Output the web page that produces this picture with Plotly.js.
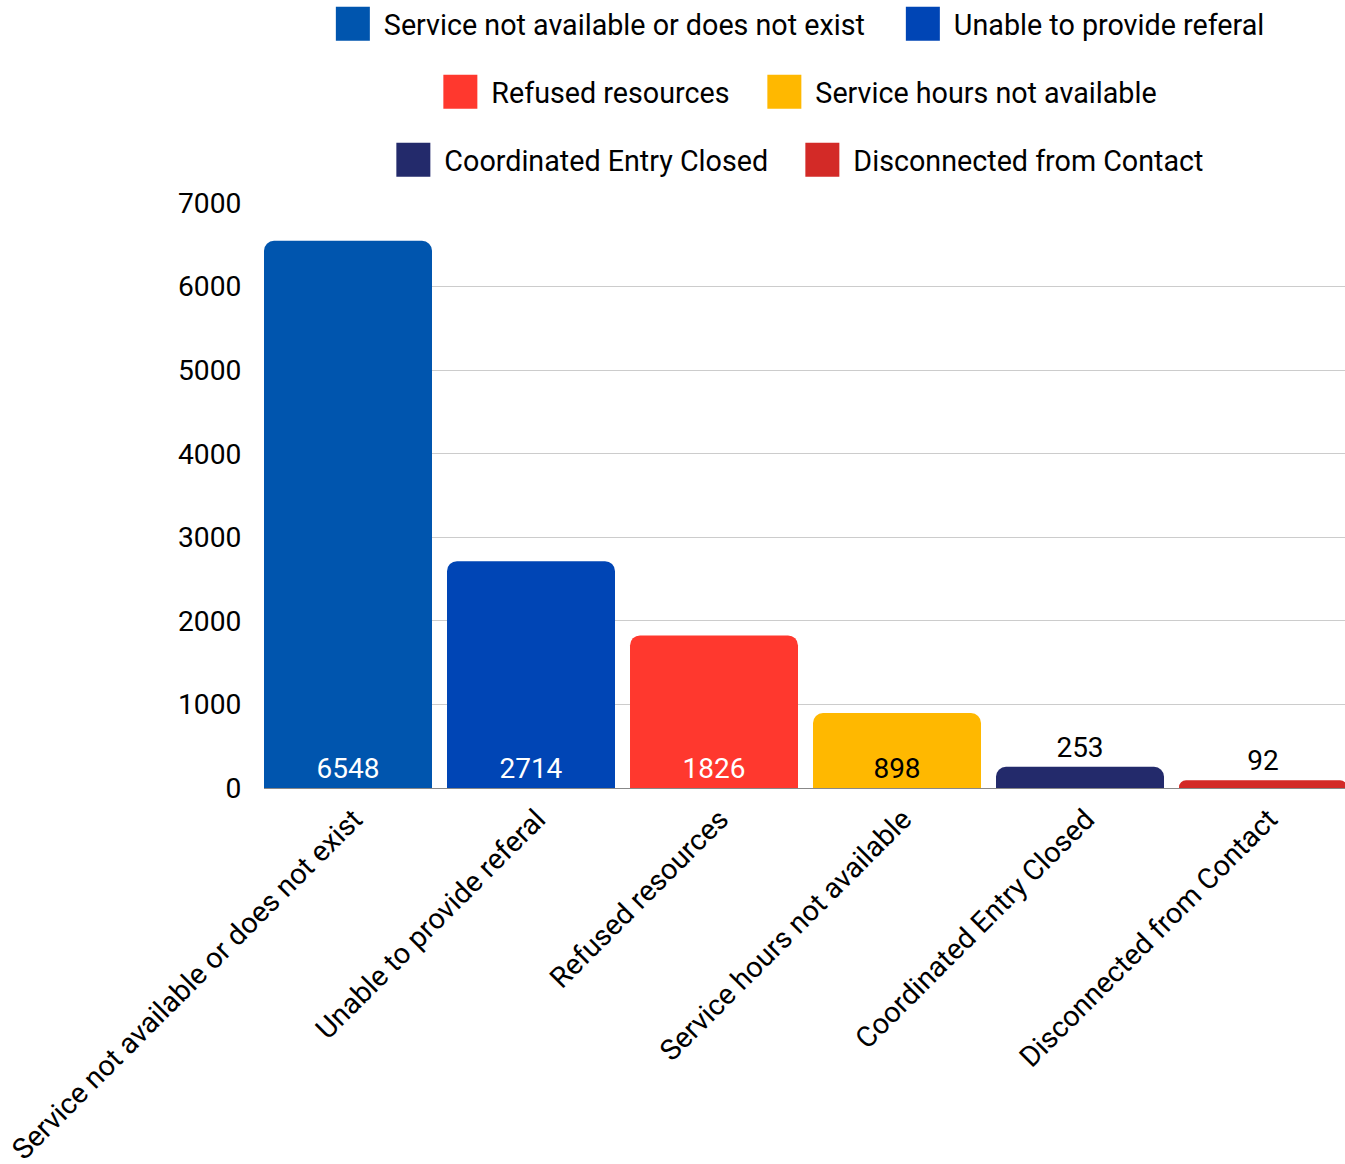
<!DOCTYPE html>
<html>
<head>
<meta charset="utf-8">
<script src="https://cdn.plot.ly/plotly-3.0.1.min.js"></script>
<style>
  html, body { margin: 0; padding: 0; background: #fff; }
  #chart { width: 1345px; height: 1164px; }
</style>
</head>
<body>
<div id="chart"></div>
<script>
const categories = [
  "Service not available or does not exist",
  "Unable to provide referal",
  "Refused resources",
  "Service hours not available",
  "Coordinated Entry Closed",
  "Disconnected from Contact"
];
const values = [6548, 2714, 1826, 898, 253, 92];
const barColors = ["#0055AE", "#0045B5", "#FF382E", "#FFB800", "#232A6B", "#D32A27"];
const labelColors = ["#ffffff", "#ffffff", "#ffffff", "#000000", "#000000", "#000000"];
const labelPositions = ["inside", "inside", "inside", "inside", "outside", "outside"];
const legendGroups = ["legend", "legend", "legend2", "legend2", "legend3", "legend3"];
const yTicks = [0, 1000, 2000, 3000, 4000, 5000, 6000, 7000];

const FONT = "Roboto, 'Noto Sans', sans-serif";
const FS = 28.7;
// widths reserved for each legend entry's text (first entry of a row gets extra room)
const legendEntryWidths = [503, 0, 257, 0, 342, 0];

const traces = categories.map((cat, i) => ({
  type: "bar",
  x: [cat],
  y: [values[i]],
  name: cat,
  legend: legendGroups[i],
  legendwidth: legendEntryWidths[i],
  marker: { color: barColors[i] },
  text: [String(values[i])],
  textposition: labelPositions[i],
  insidetextanchor: "start",
  textfont: { family: FONT, size: 28, color: labelColors[i] },
  cliponaxis: false,
  hoverinfo: "x+y"
}));

const legendBase = {
  orientation: "h",
  x: 0.492,
  xanchor: "center",
  yref: "container",
  yanchor: "middle",
  font: { family: FONT, size: FS, color: "#000" },
  bgcolor: "rgba(0,0,0,0)",
  itemwidth: 52,
  itemclick: false,
  itemdoubleclick: false
};

const layout = {
  width: 1345,
  height: 1164,
  margin: { l: 264, r: 0, t: 203, b: 376 },
  paper_bgcolor: "#ffffff",
  plot_bgcolor: "#ffffff",
  font: { family: FONT, size: FS, color: "#000" },
  barmode: "overlay",
  bargap: 0.082,
  barcornerradius: 10,
  showlegend: true,
  legend: Object.assign({}, legendBase, { y: 1 - 24 / 1164 }),
  legend2: Object.assign({}, legendBase, { y: 1 - 92 / 1164 }),
  legend3: Object.assign({}, legendBase, { y: 1 - 160 / 1164 }),
  xaxis: {
    type: "category",
    categoryorder: "array",
    categoryarray: categories,
    range: [-0.459, 5.448],
    tickangle: -45,
    ticks: "outside",
    ticklen: 2,
    ticklabelshift: 6,
    tickcolor: "rgba(0,0,0,0)",
    tickfont: { family: FONT, size: FS, color: "#000" },
    showgrid: false,
    showline: false,
    fixedrange: true
  },
  yaxis: {
    range: [0, 7000],
    tickvals: yTicks,
    ticktext: yTicks.map(String),
    ticks: "outside",
    ticklen: 16,
    tickcolor: "rgba(0,0,0,0)",
    tickfont: { family: FONT, size: 28.2, color: "#000" },
    showgrid: true,
    gridcolor: "#cccccc",
    gridwidth: 1,
    zeroline: true,
    zerolinecolor: "#888888",
    zerolinewidth: 1,
    fixedrange: true
  }
};

Plotly.newPlot("chart", traces, layout, { displayModeBar: false, staticPlot: true }).then(gd => {
  // enlarge legend swatches to match the reference's big square keys
  gd.querySelectorAll(".legendpoints path").forEach(p => {
    p.setAttribute("d", "M17,17H-17V-17H17Z");
  });
});
</script>
</body>
</html>
